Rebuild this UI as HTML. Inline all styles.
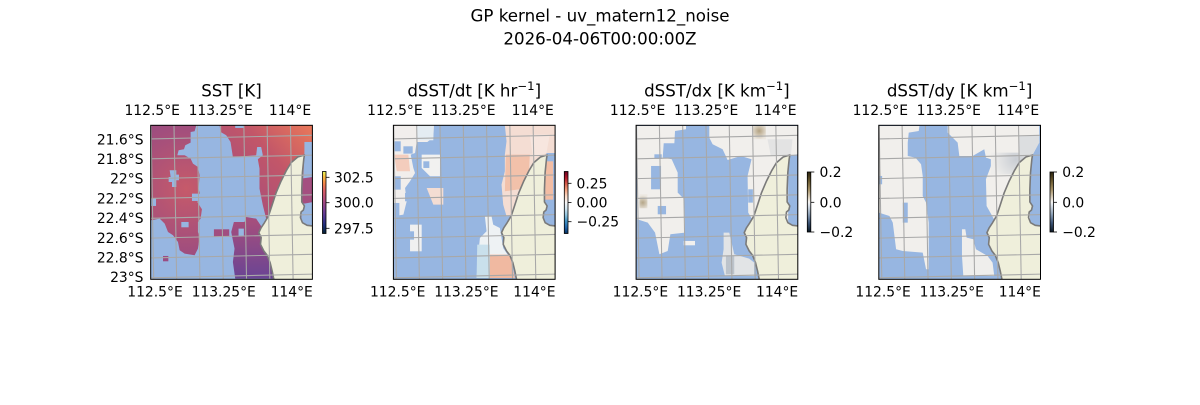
<!DOCTYPE html>
<html><head><meta charset="utf-8"><style>
html,body{margin:0;padding:0;background:#fff;}
svg text{font-family:"DejaVu Sans","Liberation Sans",sans-serif;fill:#000;}
</style></head><body>
<svg width="1200" height="400" viewBox="0 0 1200 400" xmlns="http://www.w3.org/2000/svg">
<defs>
  <g id="land">
    <path d="M462,89 L442,95 L422,112 L407,137 L392,167 L377,202 L364,242 L354,272 L342,292 L332,307 L325,322 L332,337 L330,357 L340,377 L350,390 L359,412 L365,437 L370,462 L370,470 L500,470 L500,302 L486,302 L470,300 L456,292 L450,277 L452,260 L459,254 L462,242 L454,230 L454,192 L456,142 L460,102 Z" fill="#efefdb" stroke="#7a7a7a" stroke-width="4.8" stroke-linejoin="round"/>
  </g>
  <g id="grid" stroke="#a8a8a8" stroke-width="3.2" fill="none">
    <line x1="0" y1="41" x2="486" y2="30"/>
    <line x1="0" y1="100.5" x2="486" y2="89.5"/>
    <line x1="0" y1="160" x2="486" y2="149"/>
    <line x1="0" y1="219.5" x2="486" y2="208.5"/>
    <line x1="0" y1="279" x2="486" y2="268"/>
    <line x1="0" y1="338.5" x2="486" y2="327.5"/>
    <line x1="0" y1="398" x2="486" y2="387"/>
    <line x1="0" y1="457.5" x2="486" y2="446.5"/>
    <line x1="1" y1="0" x2="9" y2="462"/>
    <line x1="70" y1="0" x2="78" y2="462"/>
    <line x1="140" y1="0" x2="148" y2="462"/>
    <line x1="210" y1="0" x2="218" y2="462"/>
    <line x1="280" y1="0" x2="288" y2="462"/>
    <line x1="350" y1="0" x2="358" y2="462"/>
    <line x1="420" y1="0" x2="428" y2="462"/>
  </g>
  <radialGradient id="p1l" gradientUnits="userSpaceOnUse" cx="115" cy="200" r="200">
    <stop offset="0" stop-color="#c65a6a"/><stop offset="1" stop-color="#9e4d7f"/>
  </radialGradient>
  <linearGradient id="p1r" gradientUnits="userSpaceOnUse" x1="250" y1="230" x2="490" y2="15">
    <stop offset="0" stop-color="#a64e7b"/><stop offset="0.55" stop-color="#c25669"/><stop offset="1" stop-color="#e8775a"/>
  </linearGradient>
  <linearGradient id="p1b" gradientUnits="userSpaceOnUse" x1="0" y1="300" x2="0" y2="470">
    <stop offset="0" stop-color="#a44e7d"/><stop offset="1" stop-color="#6a4494"/>
  </linearGradient>
  <radialGradient id="p4g" gradientUnits="userSpaceOnUse" cx="420" cy="110" r="70">
    <stop offset="0" stop-color="#c9cdd3"/><stop offset="1" stop-color="#eeedeb"/>
  </radialGradient>
  <radialGradient id="p3t" gradientUnits="userSpaceOnUse" cx="375" cy="25" r="25">
    <stop offset="0" stop-color="#b3a282"/><stop offset="1" stop-color="#ebe6de"/>
  </radialGradient>
  <radialGradient id="p3t2" gradientUnits="userSpaceOnUse" cx="25" cy="240" r="22">
    <stop offset="0" stop-color="#b5a688"/><stop offset="1" stop-color="#ece8e1"/>
  </radialGradient>
  <linearGradient id="cb1" x1="0" y1="0" x2="0" y2="1">
    <stop offset="0" stop-color="#e8fa5b"/><stop offset="0.08" stop-color="#f8c140"/>
    <stop offset="0.18" stop-color="#f68a47"/><stop offset="0.3" stop-color="#db5e63"/>
    <stop offset="0.45" stop-color="#b14c7d"/><stop offset="0.6" stop-color="#7e4192"/>
    <stop offset="0.74" stop-color="#4e3692"/><stop offset="0.87" stop-color="#1d2d79"/>
    <stop offset="1" stop-color="#042333"/>
  </linearGradient>
  <linearGradient id="cb2" x1="0" y1="0" x2="0" y2="1">
    <stop offset="0" stop-color="#67001f"/><stop offset="0.1" stop-color="#b2182b"/>
    <stop offset="0.2" stop-color="#d6604d"/><stop offset="0.3" stop-color="#f4a582"/>
    <stop offset="0.4" stop-color="#fddbc7"/><stop offset="0.5" stop-color="#f7f7f7"/>
    <stop offset="0.6" stop-color="#d1e5f0"/><stop offset="0.7" stop-color="#92c5de"/>
    <stop offset="0.8" stop-color="#4393c3"/><stop offset="0.9" stop-color="#2166ac"/>
    <stop offset="1" stop-color="#053061"/>
  </linearGradient>
  <linearGradient id="cb3" x1="0" y1="0" x2="0" y2="1">
    <stop offset="0" stop-color="#2a2410"/><stop offset="0.15" stop-color="#6b5a30"/>
    <stop offset="0.3" stop-color="#a8946a"/><stop offset="0.45" stop-color="#e5ddd0"/>
    <stop offset="0.5" stop-color="#f5f4f2"/><stop offset="0.55" stop-color="#dde3ea"/>
    <stop offset="0.7" stop-color="#8fa2b8"/><stop offset="0.85" stop-color="#3c5476"/>
    <stop offset="1" stop-color="#0b1825"/>
  </linearGradient>
</defs>

<rect width="1200" height="400" fill="#fff"/>

<!-- Suptitle -->
<text x="600" y="21.7" font-size="16.67" text-anchor="middle">GP kernel - uv_matern12_noise</text>
<text x="600" y="44.3" font-size="16.67" text-anchor="middle">2026-04-06T00:00:00Z</text>

<!-- Subplot titles -->
<text x="231.5" y="96.5" font-size="16.67" text-anchor="middle">SST [K]</text>
<text x="474.2" y="96.5" font-size="16.67" text-anchor="middle">dSST/dt [K hr<tspan dy="-6.5" font-size="11.7">−1</tspan><tspan dy="6.5">]</tspan></text>
<text x="716.9" y="96.5" font-size="16.67" text-anchor="middle">dSST/dx [K km<tspan dy="-6.5" font-size="11.7">−1</tspan><tspan dy="6.5">]</tspan></text>
<text x="959.6" y="96.5" font-size="16.67" text-anchor="middle">dSST/dy [K km<tspan dy="-6.5" font-size="11.7">−1</tspan><tspan dy="6.5">]</tspan></text>

<!-- ===== Panel 1 ===== -->
<svg x="150.7" y="125.3" width="161.7" height="154" viewBox="0 0 486 462" preserveAspectRatio="none">
  <rect x="0" y="0" width="486" height="462" fill="#97b6e1"/>
  <g transform="translate(-8,-10)">
    <path d="M8,10 L145,10 L140,28 L128,30 L128,62 L112,70 L108,82 L92,85 L88,100 L110,100 L128,110 L135,125 L150,135 L155,160 L152,200 L158,225 L148,240 L162,262 L158,290 L150,300 L150,330 L155,345 L150,380 L140,400 L110,395 L95,385 L90,360 L75,340 L60,330 L50,305 L35,290 L10,295 L8,290 Z" fill="url(#p1l)"/>
    <path d="M65,145 L85,145 L85,158 L93,158 L93,175 L85,175 L85,195 L72,195 L72,180 L62,180 L62,165 L68,165 Z" fill="#97b6e1"/>
    <rect x="132" y="215" width="26" height="22" fill="#97b6e1"/>
    <rect x="8" y="228" width="16" height="24" fill="#97b6e1"/>
    <rect x="100" y="300" width="22" height="16" fill="#97b6e1"/>
    <rect x="60" y="345" width="18" height="20" fill="#97b6e1"/>
    <rect x="45" y="402" width="16" height="16" fill="#9a4c82"/>
    <path d="M215,10 L496,10 L496,85 L470,95 L460,300 L380,300 L355,290 L345,250 L335,200 L335,140 L330,112 L345,100 L340,75 L328,75 L325,100 L255,105 L248,60 L235,40 L218,30 Z" fill="url(#p1r)"/>
    <rect x="262" y="10" width="26" height="8" fill="#97b6e1"/>
    <rect x="470" y="60" width="26" height="40" fill="#97b6e1"/>
    <path d="M460,170 L496,165 L496,240 L470,245 L460,240 Z" fill="#a44f80"/>
    <path d="M258,300 L290,300 L295,285 L325,290 L345,320 L370,440 L380,470 L262,470 L255,420 L260,380 L250,330 Z" fill="url(#p1b)"/>
    <rect x="272" y="320" width="16" height="22" fill="#97b6e1"/>
    <rect x="198" y="322" width="46" height="22" fill="#a14e80"/>
  </g>
  <use href="#land"/>
  <use href="#grid"/>
</svg>
<rect x="150.7" y="125.3" width="161.7" height="154" fill="none" stroke="#000" stroke-width="1"/>

<!-- ===== Panel 2 ===== -->
<svg x="393.4" y="125.3" width="161.7" height="154" viewBox="0 0 486 462" preserveAspectRatio="none">
  <rect x="0" y="0" width="486" height="462" fill="#97b6e1"/>
  <g transform="translate(-10,-12)">
    <path d="M10,12 L132,12 L130,48 L112,62 L80,62 L75,95 L62,100 L70,140 L75,155 L60,180 L45,200 L50,240 L40,280 L10,285 Z" fill="#f1eeec"/>
    <rect x="80" y="12" width="50" height="45" fill="#e4ecf2"/>
    <path d="M12,100 L55,100 L60,150 L20,150 Z" fill="#f4cdbd"/>
    <rect x="10" y="60" width="22" height="30" fill="#97b6e1"/>
    <rect x="40" y="75" width="28" height="22" fill="#97b6e1"/>
    <rect x="10" y="165" width="22" height="40" fill="#97b6e1"/>
    <rect x="45" y="215" width="20" height="25" fill="#97b6e1"/>
    <rect x="10" y="245" width="18" height="40" fill="#97b6e1"/>
    <path d="M95,100 L150,100 L150,165 L120,165 L95,140 Z" fill="#f1f1f0"/>
    <rect x="100" y="120" width="18" height="20" fill="#97b6e1"/>
    <path d="M110,200 L160,200 L160,250 L130,250 Z" fill="#f4ddd3"/>
    <rect x="60" y="310" width="35" height="80" fill="#f0f0f0"/>
    <rect x="60" y="330" width="12" height="25" fill="#97b6e1"/>
    <path d="M345,12 L496,12 L496,95 L470,95 L462,270 L350,285 L340,250 L335,190 L345,150 L345,100 L350,60 Z" fill="#f4ddd3"/>
    <path d="M348,100 L420,100 L415,200 L345,210 Z" fill="#f2c1aa"/>
    <path d="M420,40 L480,40 L470,95 L430,110 Z" fill="#f7e6df"/>
    <rect x="466" y="120" width="24" height="115" fill="#f2bda4"/>
    <path d="M285,285 L305,285 L310,310 L330,320 L340,380 L360,410 L375,470 L260,470 L265,400 L270,350 L290,330 Z" fill="#eef2f4"/>
    <path d="M262,370 L300,370 L300,470 L260,470 Z" fill="#c9e0ec"/>
    <path d="M300,400 L360,400 L375,470 L300,470 Z" fill="#f0b9a1"/>
  </g>
  <use href="#land"/>
  <use href="#grid"/>
</svg>
<rect x="393.4" y="125.3" width="161.7" height="154" fill="none" stroke="#000" stroke-width="1"/>

<!-- ===== Panel 3 ===== -->
<svg x="636.1" y="125.3" width="161.7" height="154" viewBox="0 0 486 462" preserveAspectRatio="none">
  <rect x="0" y="0" width="486" height="462" fill="#97b6e1"/>
  <g transform="translate(-5,-8)">
    <path d="M8,10 L155,10 L155,20 L122,25 L120,62 L88,62 L85,105 L112,110 L130,150 L130,210 L150,230 L152,330 L108,335 L100,385 L75,395 L62,330 L40,300 L8,290 Z" fill="#f1efec"/>
    <rect x="50" y="130" width="30" height="70" fill="#97b6e1"/>
    <rect x="60" y="95" width="22" height="14" fill="#97b6e1"/>
    <rect x="70" y="250" width="25" height="25" fill="#97b6e1"/>
    <rect x="15" y="215" width="24" height="42" fill="url(#p3t2)"/>
    <path d="M225,10 L490,10 L490,95 L462,100 L462,300 L360,300 L342,270 L340,160 L352,110 L320,100 L280,112 L265,80 L235,65 L225,45 Z" fill="#f1efec"/>
    <rect x="355" y="10" width="40" height="40" fill="url(#p3t)"/>
    <path d="M400,50 L475,50 L470,100 L410,100 Z" fill="#e3e3e3"/>
    <rect x="342" y="200" width="14" height="40" fill="#97b6e1"/>
    <path d="M268,330 L285,330 L292,360 L300,395 L345,408 L360,420 L360,460 L272,460 L262,420 L268,380 Z" fill="#e2e4e6"/>
    <rect x="275" y="400" width="25" height="55" fill="#bcc3cb"/>
    <rect x="148" y="355" width="34" height="13" fill="#f2f0ee"/>
  </g>
  <use href="#land"/>
  <use href="#grid"/>
</svg>
<rect x="636.1" y="125.3" width="161.7" height="154" fill="none" stroke="#000" stroke-width="1"/>

<!-- ===== Panel 4 ===== -->
<svg x="878.8" y="125.3" width="161.7" height="154" viewBox="0 0 486 462" preserveAspectRatio="none">
  <rect x="0" y="0" width="486" height="462" fill="#97b6e1"/>
  <g transform="translate(-8,-8)">
    <path d="M8,10 L130,10 L128,25 L98,30 L95,60 L95,100 L118,105 L135,125 L140,160 L140,220 L150,240 L158,300 L158,440 L150,440 L140,390 L80,385 L60,380 L50,300 L40,280 L8,270 Z" fill="#f1efec"/>
    <rect x="80" y="240" width="15" height="60" fill="#97b6e1"/>
    <rect x="8" y="160" width="10" height="25" fill="#97b6e1"/>
    <path d="M215,10 L490,10 L490,60 L470,97 L462,110 L462,300 L360,300 L332,250 L330,170 L345,130 L345,110 L330,105 L325,80 L290,100 L250,100 L245,60 L230,45 L215,30 Z" fill="#f1efec"/>
    <rect x="345" y="90" width="120" height="65" fill="url(#p4g)"/>
    <path d="M430,40 L490,40 L490,60 L470,97 L430,100 Z" fill="#dcdee0"/>
    <path d="M258,320 L268,320 L272,345 L292,350 L300,380 L335,400 L350,420 L355,460 L262,460 L258,400 Z" fill="#efeeec"/>
  </g>
  <use href="#land"/>
  <use href="#grid"/>
</svg>
<rect x="878.8" y="125.3" width="161.7" height="154" fill="none" stroke="#000" stroke-width="1"/>

<!-- Latitude labels (panel 1) -->
<g font-size="13.89" text-anchor="end">
  <text x="143.5" y="144.3">21.6°S</text>
  <text x="143.5" y="164">21.8°S</text>
  <text x="143.5" y="183.7">22°S</text>
  <text x="143.5" y="203.4">22.2°S</text>
  <text x="143.5" y="223.1">22.4°S</text>
  <text x="143.5" y="242.8">22.6°S</text>
  <text x="143.5" y="262.5">22.8°S</text>
  <text x="143.5" y="282.2">23°S</text>
</g>

<!-- Longitude labels -->
<g font-size="13.89" text-anchor="middle">
  <text x="152.2" y="115">112.5°E</text><text x="220.7" y="115">113.25°E</text><text x="290" y="115">114°E</text>
  <text x="155" y="296.5">112.5°E</text><text x="223.7" y="296.5">113.25°E</text><text x="291.7" y="296.5">114°E</text>

  <text x="394.9" y="115">112.5°E</text><text x="463.4" y="115">113.25°E</text><text x="532.7" y="115">114°E</text>
  <text x="397.7" y="296.5">112.5°E</text><text x="466.4" y="296.5">113.25°E</text><text x="534.4" y="296.5">114°E</text>

  <text x="637.6" y="115">112.5°E</text><text x="706.1" y="115">113.25°E</text><text x="775.4" y="115">114°E</text>
  <text x="640.4" y="296.5">112.5°E</text><text x="709.1" y="296.5">113.25°E</text><text x="777.1" y="296.5">114°E</text>

  <text x="880.3" y="115">112.5°E</text><text x="948.8" y="115">113.25°E</text><text x="1018.1" y="115">114°E</text>
  <text x="883.1" y="296.5">112.5°E</text><text x="951.8" y="296.5">113.25°E</text><text x="1019.8" y="296.5">114°E</text>
</g>

<!-- Colorbar 1 -->
<rect x="322.5" y="171.5" width="3.5" height="62" fill="url(#cb1)" stroke="#000" stroke-width="0.8"/>
<g stroke="#000" stroke-width="0.8">
  <line x1="326" y1="177.3" x2="329.5" y2="177.3"/>
  <line x1="326" y1="202.7" x2="329.5" y2="202.7"/>
  <line x1="326" y1="228.3" x2="329.5" y2="228.3"/>
</g>
<g font-size="13.89">
  <text x="334" y="182.3">302.5</text>
  <text x="334" y="207.7">300.0</text>
  <text x="334" y="233.3">297.5</text>
</g>

<!-- Colorbar 2 -->
<rect x="564.3" y="171.5" width="3.7" height="62" fill="url(#cb2)" stroke="#000" stroke-width="0.8"/>
<g stroke="#000" stroke-width="0.8">
  <line x1="568" y1="183.3" x2="571.5" y2="183.3"/>
  <line x1="568" y1="202.5" x2="571.5" y2="202.5"/>
  <line x1="568" y1="221.7" x2="571.5" y2="221.7"/>
</g>
<g font-size="13.89">
  <text x="576.5" y="188.3">0.25</text>
  <text x="576.5" y="207.5">0.00</text>
  <text x="576.5" y="226.7">−0.25</text>
</g>

<!-- Colorbar 3 -->
<rect x="807.3" y="172" width="3.5" height="60" fill="url(#cb3)" stroke="#000" stroke-width="0.8"/>
<g stroke="#000" stroke-width="0.8">
  <line x1="810.8" y1="172" x2="814.3" y2="172"/>
  <line x1="810.8" y1="202.3" x2="814.3" y2="202.3"/>
  <line x1="810.8" y1="232" x2="814.3" y2="232"/>
</g>
<g font-size="13.89">
  <text x="819.5" y="177">0.2</text>
  <text x="819.5" y="207.3">0.0</text>
  <text x="819.5" y="237">−0.2</text>
</g>

<!-- Colorbar 4 -->
<rect x="1050" y="172" width="3.5" height="60" fill="url(#cb3)" stroke="#000" stroke-width="0.8"/>
<g stroke="#000" stroke-width="0.8">
  <line x1="1053.5" y1="172" x2="1057" y2="172"/>
  <line x1="1053.5" y1="202.3" x2="1057" y2="202.3"/>
  <line x1="1053.5" y1="232" x2="1057" y2="232"/>
</g>
<g font-size="13.89">
  <text x="1062.2" y="177">0.2</text>
  <text x="1062.2" y="207.3">0.0</text>
  <text x="1062.2" y="237">−0.2</text>
</g>
</svg>
</body></html>
